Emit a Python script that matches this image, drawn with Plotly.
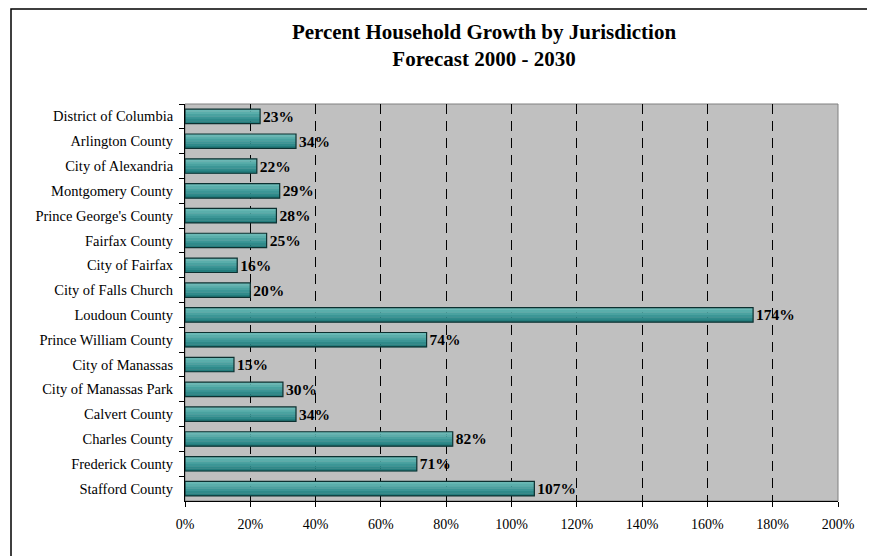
import plotly.graph_objects as go

jurisdictions = [
    "District of Columbia", "Arlington County", "City of Alexandria", "Montgomery County",
    "Prince George's County", "Fairfax County", "City of Fairfax", "City of Falls Church",
    "Loudoun County", "Prince William County", "City of Manassas", "City of Manassas Park",
    "Calvert County", "Charles County", "Frederick County", "Stafford County",
]
growth_pct = [23, 34, 22, 29, 28, 25, 16, 20, 174, 74, 15, 30, 34, 82, 71, 107]
x_ticks = [0, 20, 40, 60, 80, 100, 120, 140, 160, 180, 200]
x_tick_labels = [f"{v}%" for v in x_ticks]

FONT = "Liberation Serif, Times New Roman, serif"

# page body has an 8px margin; figure sized to fill the rest of the window
W, H = 867, 548
L, R, T, B = 177, 37, 96, 55
PW, PH = W - L - R, H - T - B

BAR_W = 0.58
# vertical gradient of the bar fill, drawn as stacked bands (top -> bottom)
gradient = ["#6ab8b5", "#5aaeab", "#4aa2a0", "#3c9696", "#2f8a8a", "#237c7c"]

fig = go.Figure()
band = BAR_W / len(gradient)
for i, col in enumerate(gradient):
    fig.add_trace(go.Bar(
        y=jurisdictions, x=growth_pct, orientation="h",
        marker=dict(color=col, line=dict(width=0)),
        width=band + 0.01, offset=-BAR_W / 2 + i * band, hoverinfo="skip",
    ))
# outline + labels
fig.add_trace(go.Bar(
    y=jurisdictions, x=growth_pct, orientation="h",
    marker=dict(color="rgba(0,0,0,0)", line=dict(color="#0d3030", width=1.2)),
    width=BAR_W,
    text=[f"{v}%" for v in growth_pct], textposition="outside",
    constraintext="none",
    textfont=dict(family=FONT, size=15.5, color="black", weight="bold"),
    cliponaxis=False, hoverinfo="x+y",
))

fig.update_layout(
    width=W, height=H,
    margin=dict(l=L, r=R, t=T, b=B),
    paper_bgcolor="white", plot_bgcolor="#c0c0c0",
    showlegend=False, barmode="overlay",
    font=dict(family=FONT, size=14, color="black"),
    title=dict(
        text="<b>Percent Household Growth by Jurisdiction<br>Forecast 2000 - 2030</b>",
        x=476 / W, xanchor="center", y=1 - 31 / H, yanchor="middle",
        font=dict(family=FONT, size=21, color="black"),
    ),
    xaxis=dict(
        range=[0, 200], tickvals=x_ticks, ticktext=x_tick_labels,
        showgrid=True, gridcolor="black", gridwidth=1, griddash="10px,7px",
        showline=True, linecolor="black", linewidth=1,
        ticks="outside", ticklen=5, tickcolor="black",
        tickfont=dict(family=FONT, size=14), zeroline=False,
        ticklabelstandoff=5,
    ),
    yaxis=dict(
        autorange="reversed", showline=True, linecolor="black", linewidth=1,
        ticks="outside", tickson="boundaries", ticklen=5, tickcolor="black",
        tickfont=dict(family=FONT, size=14.5), showgrid=False,
        ticklabelstandoff=8,
    ),
    shapes=[
        dict(type="rect", xref="paper", yref="paper", x0=0, x1=1, y0=0, y1=1,
             line=dict(color="#808080", width=1), layer="below"),
        dict(type="rect", xref="paper", yref="paper",
             x0=(3 - L) / PW, x1=1.2, y0=-0.3, y1=(PH + T - 1) / PH,
             line=dict(color="black", width=1.5), layer="below"),
    ],
)

fig.write_html("out.html")
